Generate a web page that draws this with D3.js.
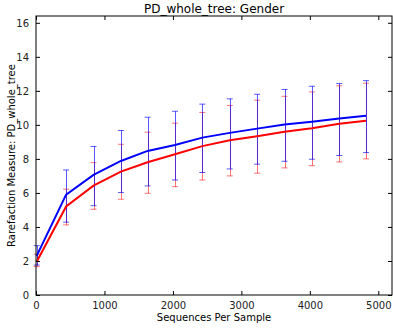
<!DOCTYPE html>
<html>
<head>
<meta charset="utf-8">
<script src="https://cdn.jsdelivr.net/npm/d3@7"></script>
<style>
  body { margin: 0; background: #fff; }
  svg { font-family: "DejaVu Sans", sans-serif; }
</style>
</head>
<body>
<div id="chart"></div>
<script>
// rarefaction depths
const depths = [10, 440, 840, 1240, 1630, 2030, 2430, 2830, 3230, 3630, 4030, 4430, 4820];
// blue group
const blueMean = [2.3, 5.9, 7.06, 7.88, 8.47, 8.82, 9.25, 9.53, 9.78, 10.02, 10.18, 10.37, 10.53];
const blueLow  = [1.76, 4.28, 5.25, 6.02, 6.41, 6.76, 7.2, 7.41, 7.69, 7.86, 7.98, 8.2, 8.37];
const blueHigh = [2.9, 7.35, 8.73, 9.67, 10.45, 10.8, 11.22, 11.53, 11.8, 12.08, 12.27, 12.43, 12.6];
// red group
const redMean = [1.96, 5.2, 6.43, 7.25, 7.8, 8.27, 8.75, 9.1, 9.33, 9.59, 9.8, 10.06, 10.24];
const redLow  = [1.67, 4.12, 5.04, 5.63, 5.98, 6.37, 6.76, 7.0, 7.16, 7.47, 7.6, 7.82, 8.0];
const redHigh = [2.4, 6.22, 7.78, 8.86, 9.57, 10.1, 10.73, 11.14, 11.45, 11.68, 11.94, 12.3, 12.45];

const xTicks = [0, 1000, 2000, 3000, 4000, 5000];
const yTicks = [0, 2, 4, 6, 8, 10, 12, 14, 16];

const width = 393, height = 330;
const margin = {left: 36, right: 1, top: 16, bottom: 35};

const svg = d3.select('#chart').append('svg')
    .attr('width', width)
    .attr('height', height);

const x = d3.scaleLinear().domain([0, 5200]).range([margin.left, width - margin.right]);
const y = d3.scaleLinear().domain([0, 16.4]).range([height - margin.bottom, margin.top]);

function series(mean, low, high) {
    return depths.map(function(d, i) {
        return {x: d, mean: mean[i], low: low[i], high: high[i]};
    });
}
const groups = [
    {color: '#ff0000', data: series(redMean, redLow, redHigh), op: 0.55},
    {color: '#0000ff', data: series(blueMean, blueLow, blueHigh), op: 0.65}
];

// error bars
groups.forEach(function(g) {
    const eb = svg.append('g').attr('stroke', g.color).attr('stroke-opacity', g.op).attr('stroke-width', 1);
    eb.selectAll('.v').data(g.data).enter().append('line')
        .attr('x1', d => Math.round(x(d.x)) + 0.5).attr('x2', d => Math.round(x(d.x)) + 0.5)
        .attr('y1', d => y(d.low)).attr('y2', d => y(d.high));
    eb.selectAll('.cl').data(g.data).enter().append('line')
        .attr('x1', d => x(d.x) - 3).attr('x2', d => x(d.x) + 3)
        .attr('y1', d => y(d.low)).attr('y2', d => y(d.low));
    eb.selectAll('.ch').data(g.data).enter().append('line')
        .attr('x1', d => x(d.x) - 3).attr('x2', d => x(d.x) + 3)
        .attr('y1', d => y(d.high)).attr('y2', d => y(d.high));
});

// mean lines
const line = d3.line().x(d => x(d.x)).y(d => y(d.mean));
groups.forEach(function(g) {
    svg.append('path').datum(g.data)
        .attr('d', line)
        .attr('fill', 'none')
        .attr('stroke', g.color)
        .attr('stroke-width', 2);
});

// axes, ticks inward on all four sides
const plotW = width - margin.left - margin.right;
const plotH = height - margin.top - margin.bottom;
const axBottom = svg.append('g').attr('transform', 'translate(0,' + (height - margin.bottom) + ')')
    .call(d3.axisBottom(x).tickValues(xTicks).tickSizeInner(-4).tickSizeOuter(0).tickPadding(7).tickFormat(d3.format('d')));
const axTop = svg.append('g').attr('transform', 'translate(0,' + margin.top + ')')
    .call(d3.axisTop(x).tickValues(xTicks).tickSizeInner(-4).tickSizeOuter(0).tickFormat(''));
const axLeft = svg.append('g').attr('transform', 'translate(' + margin.left + ',0)')
    .call(d3.axisLeft(y).tickValues(yTicks).tickSizeInner(-4).tickSizeOuter(0).tickPadding(7));
const axRight = svg.append('g').attr('transform', 'translate(' + (width - margin.right) + ',0)')
    .call(d3.axisRight(y).tickValues(yTicks).tickSizeInner(-4).tickSizeOuter(0).tickFormat(''));
[axBottom, axTop, axLeft, axRight].forEach(function(a) {
    a.select('.domain').remove();
    a.selectAll('text').attr('font-size', 10).attr('fill', '#222').attr('font-family', '"DejaVu Sans", sans-serif');
});

svg.append('rect')
    .attr('x', margin.left).attr('y', margin.top)
    .attr('width', plotW).attr('height', plotH)
    .attr('fill', 'none').attr('stroke', '#000').attr('stroke-width', 1);

svg.append('text')
    .attr('x', margin.left + plotW / 2).attr('y', 13)
    .attr('text-anchor', 'middle').attr('font-size', 12)
    .text('PD_whole_tree: Gender');

svg.append('text')
    .attr('x', margin.left + plotW / 2).attr('y', 321)
    .attr('text-anchor', 'middle').attr('font-size', 10)
    .text('Sequences Per Sample');

svg.append('text')
    .attr('transform', 'translate(15,' + (margin.top + plotH / 2) + ') rotate(-90)')
    .attr('text-anchor', 'middle').attr('font-size', 10)
    .text('Rarefaction Measure: PD_whole_tree');
</script>
</body>
</html>
